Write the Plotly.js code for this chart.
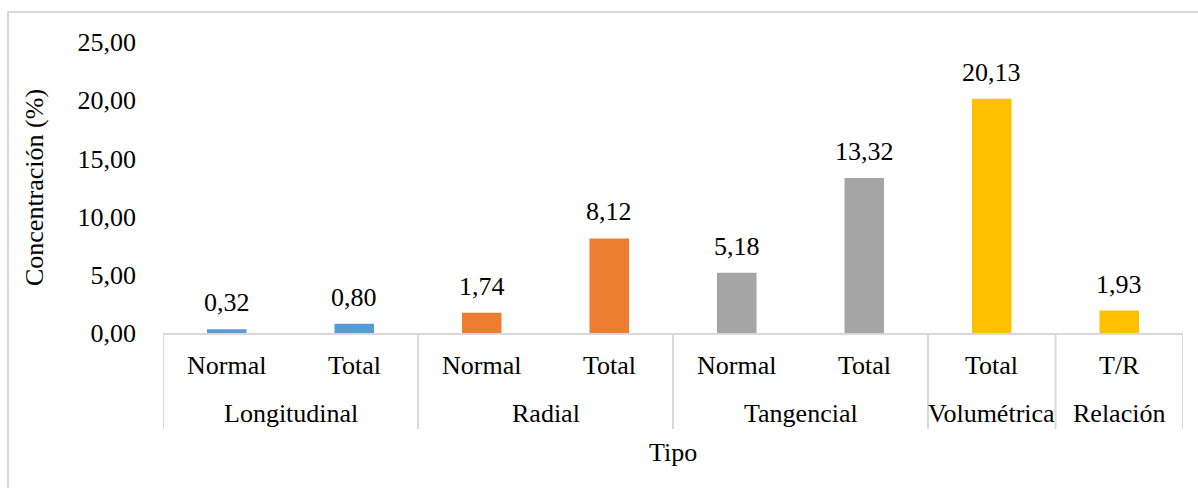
<!DOCTYPE html>
<html>
<head>
<meta charset="utf-8">
<script src="https://cdn.plot.ly/plotly-3.0.1.min.js"></script>
<style>
  html, body { margin: 0; padding: 0; background: #ffffff; }
  #chart { width: 1198px; height: 488px; }
</style>
</head>
<body>
<div id="chart"></div>
<script>
const groups = ["Longitudinal", "Longitudinal", "Radial", "Radial", "Tangencial", "Tangencial", "Volumétrica", "Relación"];
const subs = ["Normal", "Total", "Normal", "Total", "Normal", "Total", "Total", "T/R"];
const values = [0.32, 0.80, 1.74, 8.12, 5.18, 13.32, 20.13, 1.93];
const barColors = ["#5B9BD5", "#5B9BD5", "#ED7D31", "#ED7D31", "#A5A5A5", "#A5A5A5", "#FFC000", "#FFC000"];
const yTickVals = [0, 5, 10, 15, 20, 25];

const FONT = "Liberation Serif";
const FS = 26;
const W = 1198, H = 488;
const mL = 163, mR = W - 1183, mT = 42, mB = H - 333;
const pw = W - mL - mR, ph = H - mT - mB;
const px = xpx => (xpx - mL) / pw;
const py = ypx => 1 - (ypx - mT) / ph;

const fmt = v => v.toFixed(2).replace('.', ',');
const txtFont = { family: FONT, size: FS, color: '#000000' };
const idx = values.map((v, i) => i);

const trace = {
  type: 'bar',
  x: idx,
  y: values,
  marker: { color: barColors, line: { width: 0 } },
  width: 0.31,
  hoverinfo: 'none',
  showlegend: false
};

const annotations = [];
// data labels
values.forEach((v, i) => annotations.push({
  x: i, y: v, xref: 'x', yref: 'y',
  text: fmt(v), showarrow: false,
  yanchor: 'bottom', yshift: 10, font: txtFont
}));
// first-level category labels
subs.forEach((s, i) => annotations.push({
  x: i, y: py(365), xref: 'x', yref: 'paper',
  text: s, showarrow: false, yanchor: 'middle', font: txtFont
}));
// second-level group labels and dividers
const shapes = [];
const divLine = { color: '#D9D9D9', width: 2 };
let start = 0;
for (let i = 1; i <= groups.length; i++) {
  if (i === groups.length || groups[i] !== groups[start]) {
    annotations.push({
      x: (start + i - 1) / 2, y: py(413), xref: 'x', yref: 'paper',
      text: groups[start], showarrow: false, yanchor: 'middle', font: txtFont
    });
    shapes.push({ type: 'line', xref: 'x', yref: 'paper', x0: start - 0.5, x1: start - 0.5, y0: 0, y1: py(429), line: divLine });
    start = i;
  }
}
shapes.push({ type: 'line', xref: 'x', yref: 'paper', x0: groups.length - 0.5, x1: groups.length - 0.5, y0: 0, y1: py(429), line: divLine });
// x axis title
annotations.push({
  x: 0.5, y: py(452), xref: 'paper', yref: 'paper',
  text: 'Tipo', showarrow: false, yanchor: 'middle', font: txtFont
});
// outer chart-area border (top and left edges visible)
shapes.push({
  type: 'rect', xref: 'paper', yref: 'paper', layer: 'below',
  x0: px(8), x1: px(1215), y0: py(12), y1: py(505),
  line: { color: '#D9D9D9', width: 2 }, fillcolor: 'rgba(0,0,0,0)'
});

const layout = {
  width: W, height: H,
  margin: { l: mL, r: mR, t: mT, b: mB, pad: 0 },
  paper_bgcolor: '#ffffff',
  plot_bgcolor: '#ffffff',
  separators: ',.',
  font: txtFont,
  xaxis: {
    range: [-0.5, values.length - 0.5],
    showline: true, linecolor: '#D9D9D9', linewidth: 2,
    showgrid: false, zeroline: false, ticks: '', showticklabels: false
  },
  yaxis: {
    range: [0, 25],
    tickvals: yTickVals,
    tickformat: '.2f',
    showgrid: false, zeroline: false, showline: false,
    ticks: '',
    ticklabelstandoff: 26,
    tickfont: txtFont,
    title: { text: 'Concentración (%)', font: txtFont, standoff: 26 }
  },
  annotations: annotations,
  shapes: shapes
};

Plotly.newPlot('chart', [trace], layout, { displayModeBar: false, staticPlot: true });
</script>
</body>
</html>
